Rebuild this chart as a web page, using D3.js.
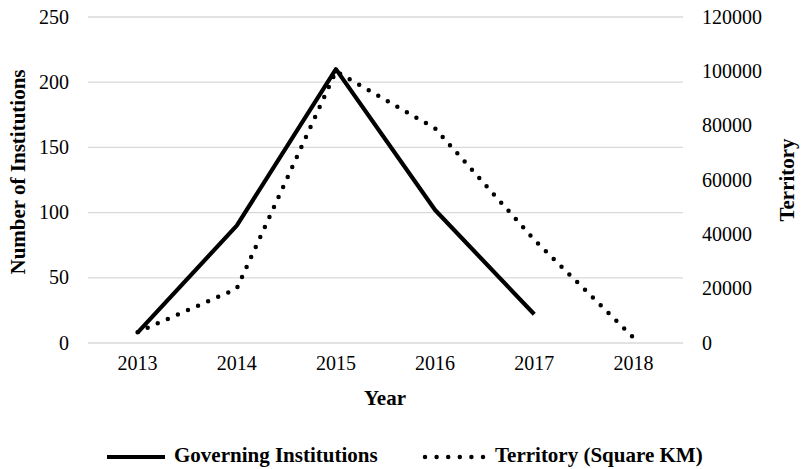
<!DOCTYPE html>
<html>
<head>
<meta charset="utf-8">
<script src="https://cdn.jsdelivr.net/npm/d3@7"></script>
<style>
  body { margin: 0; background: #fff; }
  svg text { font-family: "Liberation Serif", "Times New Roman", serif; fill: #000; }
</style>
</head>
<body>
<svg width="801" height="469"></svg>
<script>
const years = ["2013", "2014", "2015", "2016", "2017", "2018"];
const institutions = [8, 90, 210, 102, 22, null];
const territory = [4000, 20000, 100000, 79000, 38000, 2000];
const leftTicks = [0, 50, 100, 150, 200, 250];
const rightTicks = [0, 20000, 40000, 60000, 80000, 100000, 120000];

const svg = d3.select("svg");
const plotLeft = 88, plotRight = 683, plotTop = 17, plotBottom = 343;

const x = d3.scaleBand().domain(years).range([plotLeft, plotRight]);
const yL = d3.scaleLinear().domain([0, 250]).range([plotBottom, plotTop]);
const yR = d3.scaleLinear().domain([0, 120000]).range([plotBottom, plotTop]);

// gridlines
svg.append("g").selectAll("line")
  .data(leftTicks)
  .join("line")
  .attr("x1", plotLeft).attr("x2", plotRight)
  .attr("y1", d => yL(d)).attr("y2", d => yL(d))
  .attr("stroke", "#d9d9d9").attr("stroke-width", 1.3);

// left axis labels
svg.append("g").selectAll("text")
  .data(leftTicks)
  .join("text")
  .attr("x", 69).attr("y", d => yL(d) + 6.5)
  .attr("text-anchor", "end")
  .style("font-size", "20px")
  .text(d => d);

// right axis labels
svg.append("g").selectAll("text")
  .data(rightTicks)
  .join("text")
  .attr("x", 702).attr("y", d => yR(d) + 6.5)
  .style("font-size", "20px")
  .text(d => d);

// x labels
svg.append("g").selectAll("text")
  .data(years)
  .join("text")
  .attr("x", d => x(d) + x.bandwidth() / 2).attr("y", 370)
  .attr("text-anchor", "middle")
  .style("font-size", "20px")
  .text(d => d);

// axis titles
svg.append("text")
  .attr("x", 385).attr("y", 405)
  .attr("text-anchor", "middle")
  .style("font-size", "21px").style("font-weight", "bold")
  .text("Year");

svg.append("text")
  .attr("transform", "translate(25,172) rotate(-90)")
  .attr("text-anchor", "middle")
  .style("font-size", "21px").style("font-weight", "bold")
  .text("Number of Institutions");

svg.append("text")
  .attr("transform", "translate(794,180) rotate(-90)")
  .attr("text-anchor", "middle")
  .style("font-size", "21px").style("font-weight", "bold")
  .text("Territory");

const cx = d => x(d) + x.bandwidth() / 2;

// lines
const instLine = d3.line()
  .defined(d => d[1] != null)
  .x(d => cx(d[0]))
  .y(d => yL(d[1]));

svg.append("path")
  .datum(years.map((y, i) => [y, institutions[i]]))
  .attr("d", instLine)
  .attr("fill", "none")
  .attr("stroke", "#000")
  .attr("stroke-width", 4.2)
  .attr("stroke-linejoin", "round");

const terrLine = d3.line()
  .x(d => cx(d[0]))
  .y(d => yR(d[1]));

svg.append("path")
  .datum(years.map((y, i) => [y, territory[i]]))
  .attr("d", terrLine)
  .attr("fill", "none")
  .attr("stroke", "#000")
  .attr("stroke-width", 4.5)
  .attr("stroke-linecap", "round")
  .attr("stroke-dasharray", "0 11");

// legend
const legend = svg.append("g");
legend.append("line")
  .attr("x1", 107).attr("x2", 165).attr("y1", 457).attr("y2", 457)
  .attr("stroke", "#000").attr("stroke-width", 4.2);
legend.append("text")
  .attr("x", 174).attr("y", 462)
  .style("font-size", "21px").style("font-weight", "bold")
  .text("Governing Institutions");
legend.append("line")
  .attr("x1", 425).attr("x2", 483.5).attr("y1", 457).attr("y2", 457)
  .attr("stroke", "#000").attr("stroke-width", 4.5)
  .attr("stroke-linecap", "round").attr("stroke-dasharray", "0 11.6");
legend.append("text")
  .attr("x", 495).attr("y", 462)
  .style("font-size", "21px").style("font-weight", "bold")
  .text("Territory (Square KM)");
</script>
</body>
</html>
